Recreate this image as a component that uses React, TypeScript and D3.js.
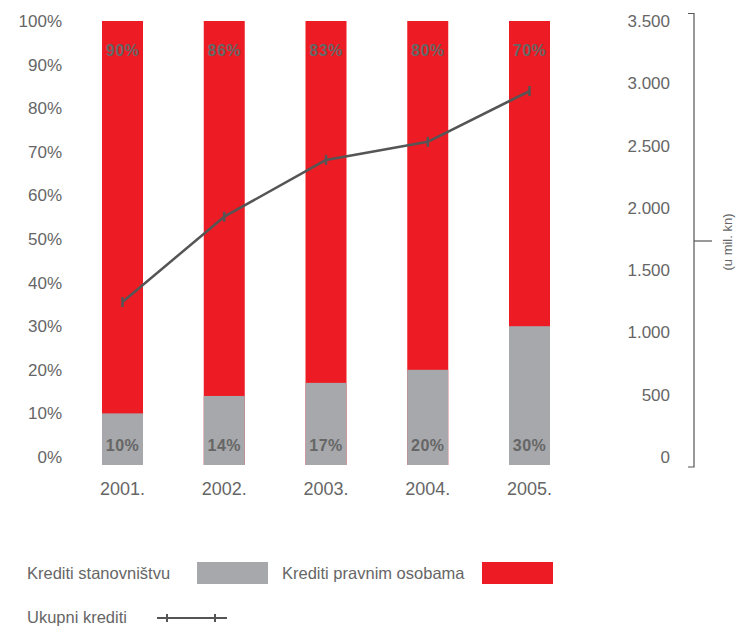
import React from "react";
import * as d3 from "d3";

const years = ["2001.", "2002.", "2003.", "2004.", "2005."];
const households = [10, 14, 17, 20, 30];
const legalEntities = [90, 86, 83, 80, 70];
const totalLoans = [1244, 1929, 2385, 2530, 2938];
const pctTicks = [0, 10, 20, 30, 40, 50, 60, 70, 80, 90, 100];
const amtTicks = [0, 500, 1000, 1500, 2000, 2500, 3000, 3500];

const GRAY = "#a7a8ab";
const RED = "#ed1c24";
const TEXT = "#666";
const LINE = "#555";
const FONT = "'Liberation Sans', Arial, sans-serif";

export default function App() {
  const W = 738, H = 626;
  const y0 = 457, y1 = 21;
  const yPct = d3.scaleLinear().domain([0, 100]).range([y0, y1]);
  const yAmt = d3.scaleLinear().domain([0, 3500]).range([y0, y1]);
  const xc = d3.scalePoint().domain(years).range([122.5, 529.5]);
  const bw = 41;
  const cx = (d: string) => xc(d) as number;
  const barBottom = y0 + 8;
  const line = d3.line<number>().x((_, i) => cx(years[i])).y((v) => yAmt(v));
  const axX = 694;

  return (
    <svg width={W} height={H} style={{ position: "absolute", left: 0, top: 0, fontFamily: FONT }}>
      <rect width={W} height={H} fill="#fff" />
      {pctTicks.map((t) => (
        <text key={t} x={62} y={yPct(t)} dy="0.35em" textAnchor="end" fontSize={17} fill={TEXT}>{t}%</text>
      ))}
      {years.map((yr, i) => (
        <g key={yr}>
          <rect x={cx(yr) - bw / 2} y={yPct(100)} width={bw} height={barBottom - yPct(100)} fill={RED} />
          <rect x={cx(yr) - bw / 2} y={yPct(households[i])} width={bw} height={barBottom - yPct(households[i])} fill={GRAY} />
          <text x={cx(yr)} y={50} dy="0.35em" textAnchor="middle" fontSize={16} fontWeight="bold" letterSpacing={0.5} fill={TEXT}>{legalEntities[i]}%</text>
          <text x={cx(yr)} y={445} dy="0.35em" textAnchor="middle" fontSize={16} fontWeight="bold" letterSpacing={0.5} fill={TEXT}>{households[i]}%</text>
          <text x={cx(yr)} y={489} dy="0.35em" textAnchor="middle" fontSize={18} fill={TEXT}>{yr}</text>
        </g>
      ))}
      <path d={line(totalLoans) || ""} fill="none" stroke={LINE} strokeWidth={2.5} strokeLinejoin="round" />
      {totalLoans.map((v, i) => (
        <line key={i} x1={cx(years[i])} x2={cx(years[i])} y1={yAmt(v) - 5} y2={yAmt(v) + 5} stroke={LINE} strokeWidth={2.5} />
      ))}
      <path d={`M${axX - 6},${yAmt(3500) - 7.5}H${axX}V${barBottom + 2}H${axX - 6}`} fill="none" stroke={LINE} strokeWidth={1.2} />
      <line x1={axX} x2={712} y1={241} y2={241} stroke={LINE} strokeWidth={1.2} />
      {amtTicks.map((t) => (
        <text key={t} x={670} y={yAmt(t)} dy="0.35em" textAnchor="end" fontSize={17} fill={TEXT}>{d3.format(",")(t).replace(/,/g, ".")}</text>
      ))}
      <text transform="translate(727,242) rotate(-90)" textAnchor="middle" dy="0.35em" fontSize={13} fill={TEXT}>(u mil. kn)</text>
      <text x={27} y={573} dy="0.35em" fontSize={16.5} fill={TEXT}>Krediti stanovništvu</text>
      <rect x={197} y={562} width={71} height={22} fill={GRAY} />
      <text x={282} y={573} dy="0.35em" fontSize={16.5} fill={TEXT}>Krediti pravnim osobama</text>
      <rect x={482} y={562} width={71} height={22} fill={RED} />
      <text x={27} y={617} dy="0.35em" fontSize={16.5} fill={TEXT}>Ukupni krediti</text>
      <line x1={157} x2={227} y1={618} y2={618} stroke={LINE} strokeWidth={2} />
      <line x1={167} x2={167} y1={614} y2={622} stroke={LINE} strokeWidth={2} />
      <line x1={215} x2={215} y1={614} y2={622} stroke={LINE} strokeWidth={2} />
    </svg>
  );
}
